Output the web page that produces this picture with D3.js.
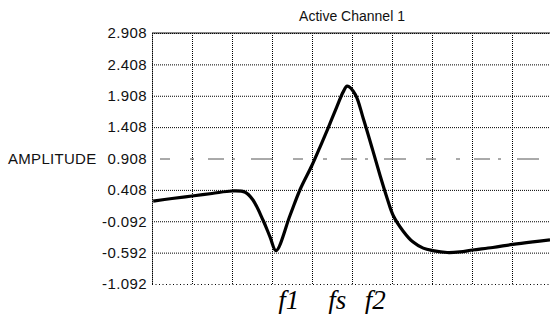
<!DOCTYPE html>
<html>
<head>
<meta charset="utf-8">
<script src="https://cdn.jsdelivr.net/npm/d3@7"></script>
<style>
  body { margin: 0; background: #fff; }
  svg { display: block; }
  .tick text { font-family: "Liberation Sans", Arial, sans-serif; font-size: 15px; letter-spacing: 0.4px; fill: #111; }
</style>
</head>
<body>
<svg id="chart" width="550" height="314"></svg>
<script>
// Valores (x en divisiones de la rejilla)
var xPos = [0.03, 0.5, 1, 1.5, 2, 2.33, 2.52, 2.78, 2.95, 3.1, 3.45, 3.7, 4.0, 4.2, 4.4, 4.62, 4.78, 4.88,
            5.08, 5.28, 5.5, 5.7, 5.88, 6.03, 6.28, 6.52, 6.78, 7.02, 7.38, 7.7, 8.02, 8.52, 9.02, 9.52, 9.95];
var amplitude = [0.23, 0.27, 0.31, 0.35, 0.39, 0.37, 0.25, -0.08, -0.34, -0.56, 0.0, 0.41, 0.80, 1.09, 1.39, 1.73, 1.97, 2.06,
                 1.93, 1.55, 1.08, 0.64, 0.27, 0.0, -0.25, -0.42, -0.52, -0.56, -0.59, -0.58, -0.55, -0.51, -0.46, -0.42, -0.39];
var yTicks = [-1.092, -0.592, -0.092, 0.408, 0.908, 1.408, 1.908, 2.408, 2.908];
var xTicks = [0, 1, 2, 3, 4, 5, 6, 7, 8, 9, 10];
var markers = [{label: "f1", x: 3.42}, {label: "fs", x: 4.63}, {label: "f2", x: 5.58}];

var svg = d3.select("#chart"),
    margin = {top: 33, right: -2, bottom: 30, left: 152},
    width = +svg.attr("width") - margin.left - margin.right,
    height = +svg.attr("height") - margin.top - margin.bottom,
    g = svg.append("g").attr("transform", "translate(" + margin.left + "," + margin.top + ")");

var x = d3.scaleLinear().domain([0, 10]).range([0, width]),
    y = d3.scaleLinear().domain([-1.092, 2.908]).range([height, 0]);

// rejilla vertical
g.append("g")
    .attr("class", "grid")
    .attr("transform", "translate(0," + height + ")")
    .call(d3.axisBottom(x).tickValues(xTicks).tickSize(-height).tickFormat(""))
    .call(function(s) { s.select(".domain").remove(); })
    .selectAll("line")
        .attr("stroke", "#000")
        .attr("stroke-dasharray", "1,1");

// rejilla horizontal (la línea 0.908 va más tenue y cortada)
g.append("g")
    .attr("class", "grid")
    .call(d3.axisLeft(y).tickValues(yTicks).tickSize(-width).tickFormat(""))
    .call(function(s) { s.select(".domain").remove(); })
    .selectAll("line")
        .attr("stroke", function(d) { return d === 0.908 ? "#555" : "#000"; })
        .attr("stroke-dasharray", function(d) {
            if (d === 0.908) return "0,8,10,20,4,14,16,8,3,16,22,12";
            if (d === -1.092) return "1,2.5";
            return "1,1";
        });

// borde superior
g.append("line")
    .attr("x1", 0).attr("x2", width)
    .attr("y1", y(2.908)).attr("y2", y(2.908))
    .attr("stroke", "#111").attr("stroke-width", 1);

// eje y con etiquetas
g.append("g")
    .call(d3.axisLeft(y).tickValues(yTicks).tickSize(0).tickPadding(5)
        .tickFormat(function(d) { return d.toFixed(3); }))
    .call(function(s) {
        s.select(".domain").attr("stroke", "#000").attr("stroke-dasharray", "1,1");
    });

// curva
var line = d3.line()
    .x(function(d, i) { return x(xPos[i]); })
    .y(function(d) { return y(d); })
    .curve(d3.curveCatmullRom.alpha(0.5));

g.append("path")
    .datum(amplitude)
    .attr("fill", "none")
    .attr("stroke", "#000")
    .attr("stroke-width", 3.2)
    .attr("stroke-linejoin", "round")
    .attr("d", line);

// titulo
svg.append("text")
    .attr("x", 352)
    .attr("y", 21)
    .attr("text-anchor", "middle")
    .attr("font-family", "Liberation Sans, Arial, sans-serif")
    .attr("font-size", 14)
    .attr("fill", "#111")
    .text("Active Channel 1");

svg.append("text")
    .attr("x", 8)
    .attr("y", y(0.908) + margin.top + 5)
    .attr("font-family", "Liberation Sans, Arial, sans-serif")
    .attr("font-size", 15)
    .attr("letter-spacing", 0.3)
    .attr("fill", "#111")
    .text("AMPLITUDE");

// marcas f1, fs, f2
g.selectAll(".marker")
    .data(markers)
    .enter().append("text")
        .attr("class", "marker")
        .attr("x", function(d) { return x(d.x); })
        .attr("y", height + 25)
        .attr("text-anchor", "middle")
        .attr("font-family", "Liberation Serif, Times New Roman, serif")
        .attr("font-style", "italic")
        .attr("font-size", 27)
        .attr("fill", "#000")
        .text(function(d) { return d.label; });
</script>
</body>
</html>
